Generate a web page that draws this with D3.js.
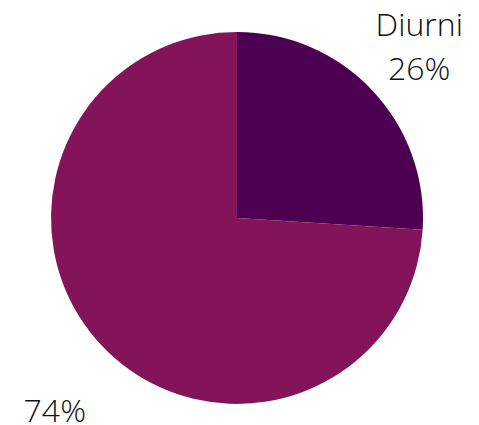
<!DOCTYPE html>
<html>
<head>
<meta charset="utf-8">
<script src="https://cdn.jsdelivr.net/npm/d3@7/dist/d3.min.js"></script>
<style>
  html, body { margin: 0; padding: 0; background: #fff; }
  svg { display: block; }
</style>
</head>
<body>
<svg id="chart" width="479" height="425"></svg>
<script>
// Share of each category (percent)
const categories = ["Diurni", ""];
const values = [26, 74];
const colors = ["#4d0052", "#84145a"];

const width = 479, height = 425;
const cx = 237, cy = 218, radius = 186, labelRadius = 250;

const svg = d3.select("#chart");
const g = svg.append("g").attr("transform", `translate(${cx},${cy})`);

const pie = d3.pie().sort(null).value(d => d.value);
const data = pie(categories.map((c, i) => ({ name: c, value: values[i], color: colors[i] })));

const arc = d3.arc().innerRadius(0).outerRadius(radius);
const labelArc = d3.arc().innerRadius(labelRadius).outerRadius(labelRadius);

g.selectAll("path.slice")
  .data(data)
  .join("path")
  .attr("class", "slice")
  .attr("d", arc)
  .attr("fill", d => d.data.color);

// Two-line labels: category name above, percentage below
const lineH = 44;
const labels = g.selectAll("text.lbl")
  .data(data)
  .join("text")
  .attr("class", "lbl")
  .attr("text-anchor", "middle")
  .attr("font-family", "'Open Sans', sans-serif")
  .attr("font-weight", 300)
  .attr("font-size", 32)
  .attr("fill", "#111");

labels.each(function(d) {
  const [x, y] = labelArc.centroid(d);
  const lines = [d.data.name, d.data.value + "%"];
  const t = d3.select(this);
  lines.forEach((s, i) => {
    t.append("tspan")
      .attr("x", x)
      .attr("y", y + (i - 0.5) * lineH + 11)
      .text(s);
  });
});
</script>
</body>
</html>
